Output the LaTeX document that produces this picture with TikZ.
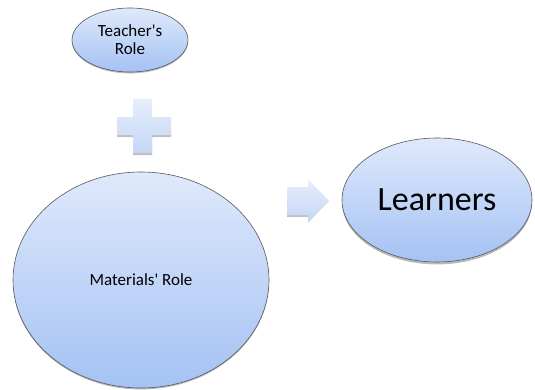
\documentclass[tikz,border=0pt]{standalone}
\usepackage{fontspec}
\setmainfont{Carlito}
\usetikzlibrary{shapes.geometric}
\definecolor{bubtop}{HTML}{DFE9FB}
\definecolor{bubbot}{HTML}{A4C2F4}
\definecolor{symtop}{HTML}{E6EEFB}
\definecolor{symbot}{HTML}{C4D6F5}
\tikzset{
  bubble/.style={ellipse,draw=gray!70!black,line width=0.6pt,top color=bubtop,bottom color=bubbot,inner sep=0pt,align=center},
  bubshadow/.style={fill=gray!55},
  symshade/.style={top color=symtop,bottom color=symbot},
}
\begin{document}
\begin{tikzpicture}[x=1pt,y=1pt,line join=round]
  \useasboundingbox (0,0) rectangle (535,389);
  % shadows under the bubbles
  \fill[bubshadow] (130,347.6) ellipse (58 and 32);
  \fill[bubshadow] (141,107.6) ellipse (128 and 108);
  \fill[bubshadow] (437,186.6) ellipse (95 and 62);
  % bubbles
  \node[bubble,minimum width=116pt,minimum height=64pt,font=\fontsize{17}{18}\selectfont] (teacher) at (130,349) {Teacher\textquotesingle s\\Role};
  \node[bubble,minimum width=256pt,minimum height=216pt,font=\fontsize{17}{18}\selectfont] (materials) at (141,109) {Materials\textquotesingle\ Role};
  \node[bubble,minimum width=190pt,minimum height=124pt,font=\fontsize{34}{36}\selectfont] (learners) at (437,189) {Learners};
  % plus sign
  \fill[gray!50] (117,252)--(133,252)--(133,234)--(152,234)--(152,252)--(171,252)--(171,256)--(117,256)--cycle;
  \shade[symshade] (133,236)--(152,236)--(152,254)--(171,254)--(171,272)--(152,272)--(152,290)--(133,290)--(133,272)--(117,272)--(117,254)--(133,254)--cycle;
  % arrow
  \fill[gray!50] (287,172)--(308,172)--(308,176)--(287,176)--cycle;
  \shade[symshade] (287,174)--(308,174)--(308,166)--(329,188)--(308,210)--(308,202)--(287,202)--cycle;
\end{tikzpicture}
\end{document}
